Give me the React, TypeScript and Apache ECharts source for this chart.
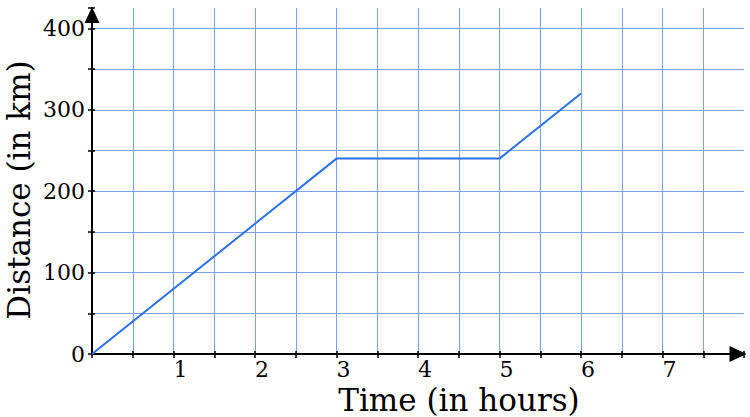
import React, { useEffect, useRef } from "react";
import * as echarts from "echarts";

const timeHours = [0, 3, 5, 6];
const distanceKm = [0, 240, 240, 320];
const xAxisTitle = "Time (in hours)";
const yAxisTitle = "Distance (in km)";

const FONT = "DejaVu Serif";

export default function App() {
  const ref = useRef<HTMLDivElement>(null);
  useEffect(() => {
    if (!ref.current) return;
    const chart = echarts.init(ref.current, null, { renderer: "svg" });
    const gridColor = "#7da1e6";
    chart.setOption({
      animation: false,
      backgroundColor: "#ffffff",
      grid: { left: 92, top: 8, right: 6, bottom: 63, containLabel: false },
      xAxis: [
        {
          type: "value",
          min: 0,
          max: 8,
          interval: 0.5,
          axisLine: {
            show: true,
            symbol: ["none", "triangle"],
            symbolSize: [16, 17],
            symbolOffset: [0, -6],
            lineStyle: { color: "#000", width: 2 },
          },
          axisTick: { show: true, inside: false, length: 4, lineStyle: { color: "#000", width: 1.5 } },
          axisLabel: {
            show: true,
            fontFamily: FONT,
            fontSize: 22,
            color: "#000",
            align: "left",
            margin: 4,
            formatter: (v: number) => (Number.isInteger(v) && v > 0 && v < 8 ? String(v) : ""),
          },
          splitLine: { show: true, showMinLine: false, showMaxLine: false, lineStyle: { color: gridColor, width: 1 } },
        },
        {
          type: "value",
          min: 0,
          max: 8,
          interval: 0.5,
          position: "bottom",
          axisLine: { show: false },
          axisTick: { show: true, inside: true, length: 3, lineStyle: { color: "#000", width: 1.5 } },
          axisLabel: { show: false },
          splitLine: { show: false },
        },
      ],
      yAxis: [
        {
          type: "value",
          min: 0,
          max: 425,
          interval: 50,
          axisLine: {
            show: true,
            symbol: ["none", "triangle"],
            symbolSize: [15, 16],
            symbolOffset: [0, -7],
            lineStyle: { color: "#000", width: 2 },
          },
          axisTick: { show: true, inside: false, length: 4, lineStyle: { color: "#000", width: 1.5 } },
          axisLabel: {
            show: true,
            fontFamily: FONT,
            fontSize: 22,
            color: "#000",
            margin: 7,
            formatter: (v: number) => (v % 100 === 0 && v <= 400 ? String(v) : ""),
          },
          splitLine: { show: true, showMinLine: false, showMaxLine: false, lineStyle: { color: gridColor, width: 1 } },
        },
        {
          type: "value",
          min: 0,
          max: 425,
          interval: 50,
          position: "left",
          axisLine: { show: false },
          axisTick: { show: true, inside: true, length: 3, lineStyle: { color: "#000", width: 1.5 } },
          axisLabel: { show: false },
          splitLine: { show: false },
        },
      ],
      graphic: [
        {
          type: "text",
          x: 459,
          y: 400,
          style: {
            text: xAxisTitle,
            fontFamily: FONT,
            fontSize: 31,
            fill: "#000",
            align: "center",
            verticalAlign: "middle",
          },
        },
        {
          type: "text",
          x: 19,
          y: 190,
          rotation: Math.PI / 2,
          style: {
            text: yAxisTitle,
            fontFamily: FONT,
            fontSize: 31,
            fill: "#000",
            align: "center",
            verticalAlign: "middle",
          },
        },
      ],
      series: [
        {
          type: "line",
          xAxisIndex: 0,
          yAxisIndex: 0,
          data: timeHours.map((t, i) => [t, distanceKm[i]]),
          showSymbol: false,
          symbol: "none",
          lineStyle: { color: "#2b70e8", width: 2 },
          z: 5,
        },
      ],
    });
    return () => chart.dispose();
  }, []);
  return <div ref={ref} style={{ width: 750, height: 417, position: "absolute", left: 0, top: 0 }} />;
}
